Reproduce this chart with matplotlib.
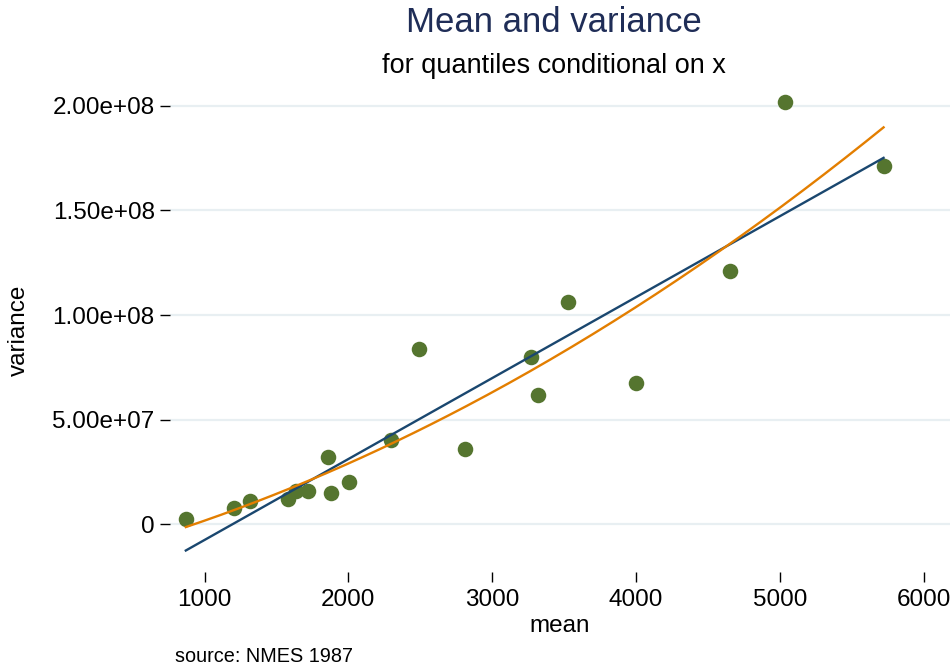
import numpy as np
import matplotlib
matplotlib.use("Agg")
import matplotlib.pyplot as plt

# ── Data: mean and variance of y for quantiles of x ──────────
mean_vals = [869, 1204, 1315, 1578, 1633, 1719, 1860, 1879, 2006, 2296,
             2493, 2811, 3270, 3318, 3525, 3998, 4652, 5034, 5722]
var_vals = [2.5e6, 7.6e6, 11.0e6, 12.1e6, 16.1e6, 15.9e6, 32.2e6, 15.1e6,
            20.1e6, 40.3e6, 83.8e6, 36.0e6, 80.1e6, 61.9e6, 106.1e6,
            67.7e6, 121.0e6, 201.8e6, 171.3e6]

x_ticks = [1000, 2000, 3000, 4000, 5000, 6000]
y_ticks = [0, 5e7, 1e8, 1.5e8, 2e8]
y_tick_labels = ["0", "5.00e+07", "1.00e+08", "1.50e+08", "2.00e+08"]

# Stata s2color-like palette
c_points = "#55752f"
c_lin = "#1a476f"
c_quad = "#e37e00"
c_grid = "#e8eff2"

plt.rcParams["font.family"] = ["Liberation Sans", "DejaVu Sans"]

x = np.array(mean_vals)
y = np.array(var_vals)

# linear and quadratic fits over the range of the data (lfit / qfit)
xs = np.linspace(x.min(), x.max(), 200)
lin = np.polyval(np.polyfit(x, y, 1), xs)
quad = np.polyval(np.polyfit(x, y, 2), xs)

fig = plt.figure(figsize=(9.52, 6.66), dpi=100)
ax = fig.add_axes([170 / 952, 1 - 572 / 666, (950 - 170) / 952, (572 - 88) / 666])

ax.scatter(x, y, s=125, color=c_points, zorder=3, linewidths=0)
ax.plot(xs, lin, color=c_lin, lw=1.7, zorder=4)
ax.plot(xs, quad, color=c_quad, lw=1.7, zorder=4)

ax.set_xlim(759, 6184)
ax.set_ylim(-22.8e6, 208.5e6)

ax.set_xticks(x_ticks)
ax.set_yticks(y_ticks)
ax.set_yticklabels(y_tick_labels)
ax.tick_params(axis="both", labelsize=17.5, length=7, width=1, color="black",
               direction="out", pad=5)
ax.tick_params(axis="y", pad=4)

for v in y_ticks:
    ax.axhline(v, color=c_grid, lw=1.6, zorder=1)

for s in ax.spines.values():
    s.set_visible(False)

ax.set_xlabel("mean", fontsize=17.5, labelpad=3)
fig.text(19 / 952, 1 - 330 / 666, "variance", rotation=90, fontsize=17.5,
         ha="center", va="center")

fig.text(554 / 952, 1 - 22 / 666, "Mean and variance", fontsize=25,
         color="#1f2d57", ha="center", va="center")
fig.text(554 / 952, 1 - 66 / 666, "for quantiles conditional on x",
         fontsize=19.5, ha="center", va="center")
fig.text(175 / 952, 1 - 656 / 666, "source: NMES 1987", fontsize=14.3,
         ha="left", va="center")

fig.savefig("out.png", dpi=100)
